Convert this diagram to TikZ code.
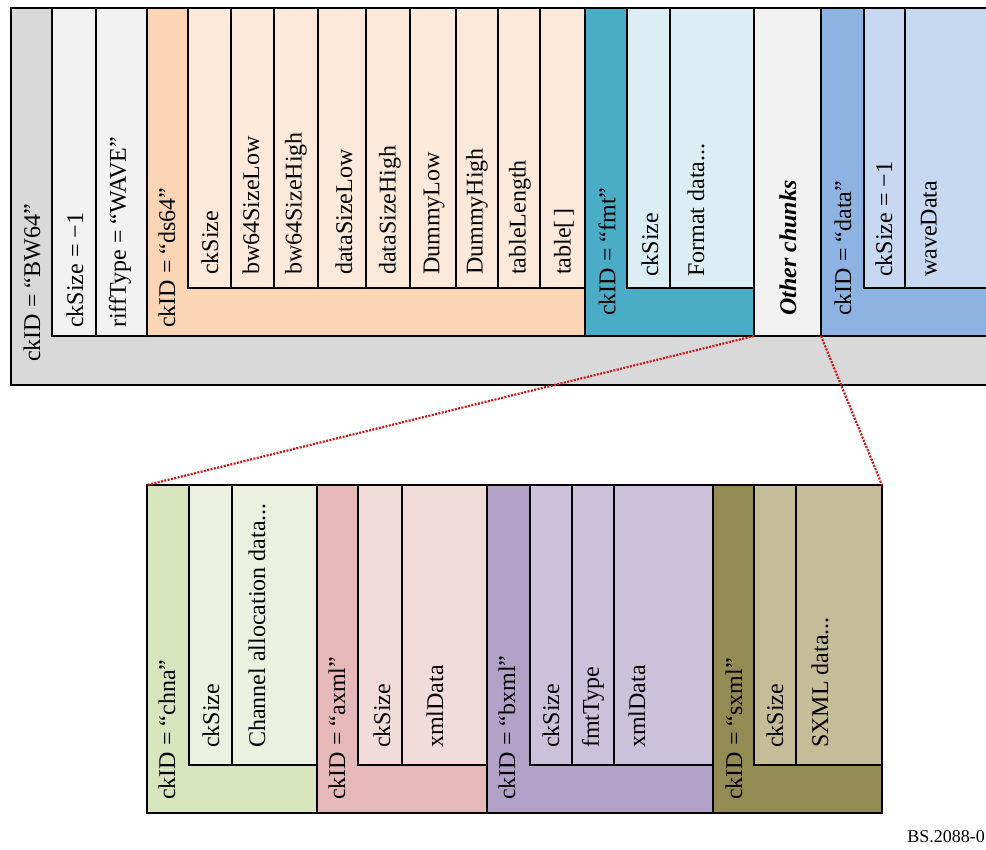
\documentclass[tikz,border=0pt]{standalone}
\usepackage{fontspec}
\setmainfont{Liberation Serif}

\definecolor{bwgray}{HTML}{D9D9D9}
\definecolor{pale}{HTML}{F2F2F2}
\definecolor{dsdark}{HTML}{FCD5B5}
\definecolor{dslight}{HTML}{FDE9D9}
\definecolor{fmtdark}{HTML}{4BACC6}
\definecolor{fmtlight}{HTML}{DAEEF3}
\definecolor{datadark}{HTML}{8DB3E2}
\definecolor{datalight}{HTML}{C6D9F1}
\definecolor{chnadark}{HTML}{D7E4BD}
\definecolor{chnalight}{HTML}{EBF1DE}
\definecolor{axmldark}{HTML}{E6B9B8}
\definecolor{axmllight}{HTML}{F2DCDB}
\definecolor{bxmldark}{HTML}{B3A2C7}
\definecolor{bxmllight}{HTML}{CCC1DA}
\definecolor{sxmldark}{HTML}{948A54}
\definecolor{sxmllight}{HTML}{C4BD97}
\definecolor{zoomred}{HTML}{CC1A1A}

\tikzset{
	box/.style={draw=black, line width=1.4pt},
	fld/.style={rotate=90, anchor=west, inner sep=0pt, font=\fontsize{24}{28}\selectfont},
	zoomline/.style={draw=zoomred, line width=2.2pt, dash pattern=on 2pt off 1.4pt},
}

\begin{document}
\begin{tikzpicture}[x=1pt,y=-1pt]
					\clip (0,0) rectangle (986,850);
					% top chunk
					\filldraw[box,fill=bwgray] (11,8) rectangle (1000,385);
					\filldraw[box,fill=pale] (52,8) rectangle (147,336);
					\draw[box] (96,8) -- (96,336);
					\filldraw[box,fill=dsdark] (147,8) rectangle (585,336);
					\filldraw[box,fill=dslight] (188,8) rectangle (585,288);
					\draw[box] (231,8) -- (231,288) (274,8) -- (274,288) (318,8) -- (318,288)
						(366,8) -- (366,288) (410,8) -- (410,288) (456,8) -- (456,288)
						(498,8) -- (498,288) (540,8) -- (540,288);
					\filldraw[box,fill=fmtdark] (585,8) rectangle (754,336);
					\filldraw[box,fill=fmtlight] (627,8) rectangle (754,288);
					\draw[box] (670,8) -- (670,288);
					\filldraw[box,fill=pale] (754,8) rectangle (821,336);
					\filldraw[box,fill=datadark] (821,8) rectangle (1000,336);
					\filldraw[box,fill=datalight] (864,8) rectangle (1000,288);
					\draw[box] (905,8) -- (905,288);
					\node[fld] (bw-id) at (32,362) {ckID = “BW64”};
					\node[fld] (bw-size) at (75,328) {ckSize = −1};
					\node[fld] (bw-type) at (120,328) {riffType = “WAVE”};
					\node[fld] (ds-id) at (167,328) {ckID = “ds64”};
					\node[fld] (ds-size) at (210,275) {ckSize};
					\node[fld] (ds-blo) at (251,275) {bw64SizeLow};
					\node[fld] (ds-bhi) at (296,275) {bw64SizeHigh};
					\node[fld] (ds-dlo) at (344,275) {dataSizeLow};
					\node[fld] (ds-dhi) at (390,275) {dataSizeHigh};
					\node[fld] (ds-mlo) at (434,275) {DummyLow};
					\node[fld] (ds-mhi) at (477,275) {DummyHigh};
					\node[fld] (ds-tlen) at (520,275) {tableLength};
					\node[fld] (ds-tab) at (564,275) {table[\,]};
					\node[fld] (fmt-id) at (607,316) {ckID = “fmt”};
					\node[fld] (fmt-size) at (650,277) {ckSize};
					\node[fld] (fmt-data) at (696,277) {Format data...};
					\node[fld] (other) at (788,316) {\textbf{\textit{Other chunks}}};
					\node[fld] (data-id) at (843,316) {ckID = “data”};
					\node[fld] (data-size) at (884,277) {ckSize = −1};
					\node[fld] (data-wave) at (929,277) {waveData};
					% sub chunks
					\filldraw[box,fill=chnadark] (147,485) rectangle (317,813);
					\filldraw[box,fill=chnalight] (189,485) rectangle (317,765);
					\draw[box] (232,485) -- (232,765);
					\filldraw[box,fill=axmldark] (317,485) rectangle (487,813);
					\filldraw[box,fill=axmllight] (358,485) rectangle (487,765);
					\draw[box] (402,485) -- (402,765);
					\filldraw[box,fill=bxmldark] (487,485) rectangle (713,813);
					\filldraw[box,fill=bxmllight] (530,485) rectangle (713,765);
					\draw[box] (572,485) -- (572,765) (614,485) -- (614,765);
					\filldraw[box,fill=sxmldark] (713,485) rectangle (882,813);
					\filldraw[box,fill=sxmllight] (754,485) rectangle (882,765);
					\draw[box] (796,485) -- (796,765);
					\node[fld] (chna-id) at (167,800) {ckID = “chna”};
					\node[fld] (chna-size) at (211,748) {ckSize};
					\node[fld] (chna-data) at (257,748) {Channel allocation data...};
					\node[fld] (axml-id) at (337,800) {ckID = “axml”};
					\node[fld] (axml-size) at (382,748) {ckSize};
					\node[fld] (axml-data) at (435,748) {xmlData};
					\node[fld] (bxml-id) at (507,800) {ckID = “bxml”};
					\node[fld] (bxml-size) at (551,748) {ckSize};
					\node[fld] (bxml-type) at (593,748) {fmtType};
					\node[fld] (bxml-data) at (637,748) {xmlData};
					\node[fld] (sxml-id) at (734,800) {ckID = “sxml”};
					\node[fld] (sxml-size) at (775,748) {ckSize};
					\node[fld] (sxml-data) at (820,748) {SXML data...};
					% zoom lines
					\coordinate (other-sw) at (754,336);
					\coordinate (other-se) at (821,336);
					\coordinate (sub-nw) at (147,485);
					\coordinate (sub-ne) at (882,485);
					\draw[zoomline] (other-sw) -- (sub-nw);
					\draw[zoomline] (other-se) -- (sub-ne);
					\node[anchor=south east, inner sep=0pt, font=\fontsize{18}{20}\selectfont] (fig-no) at (985,843) {BS.2088-0};
				\end{tikzpicture}
\end{document}
